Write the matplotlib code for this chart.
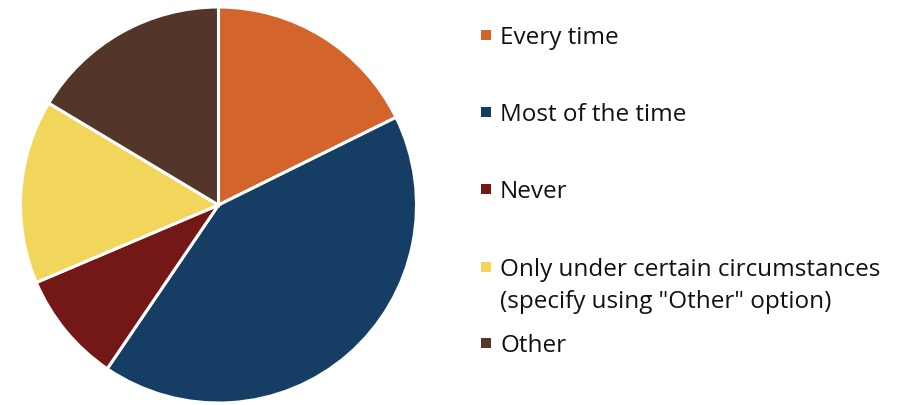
import matplotlib.pyplot as plt
from matplotlib.patches import Rectangle

# survey answers, share of respondents (%)
labels = ['Every time', 'Most of the time', 'Never',
          'Only under certain circumstances\n(specify using "Other" option)', 'Other']
shares = [17.7, 41.8, 9.1, 15.0, 16.4]
colors = ['#D2642C', '#163D64', '#731816', '#F2D65B', '#53352A']

W, H = 905, 406
fig = plt.figure(figsize=(W / 100, H / 100), dpi=100)
plt.rcParams['font.family'] = ['Open Sans', 'DejaVu Sans']

# pie axes placed in pixels: centre (218.5, 206), radius 199
cx, cy, r = 218.5, 206, 199
ax = fig.add_axes([(cx - r) / W, (H - cy - r) / H, 2 * r / W, 2 * r / H])
ax.pie(shares, colors=colors, startangle=90, counterclock=False, radius=1,
       wedgeprops=dict(edgecolor='white', linewidth=2.2))
ax.set_xlim(-1.005, 1.005)
ax.set_ylim(-1.005, 1.005)
ax.axis('off')

# hand-made legend (Excel style: marker next to first line)
ys = [36, 113, 190, 268, 344]
for lab, col, y in zip(labels, colors, ys):
    fig.patches.append(Rectangle((481 / W, 1 - (y + 5) / H), 10 / W, 10 / H,
                                 transform=fig.transFigure, facecolor=col,
                                 edgecolor='none'))
    for k, line in enumerate(lab.split('\n')):
        fig.text(500 / W, 1 - (y + 2 + k * 32) / H, line, ha='left', va='center',
                 fontsize=17.5, color='#111111')

fig.savefig('out.png', dpi=100)
